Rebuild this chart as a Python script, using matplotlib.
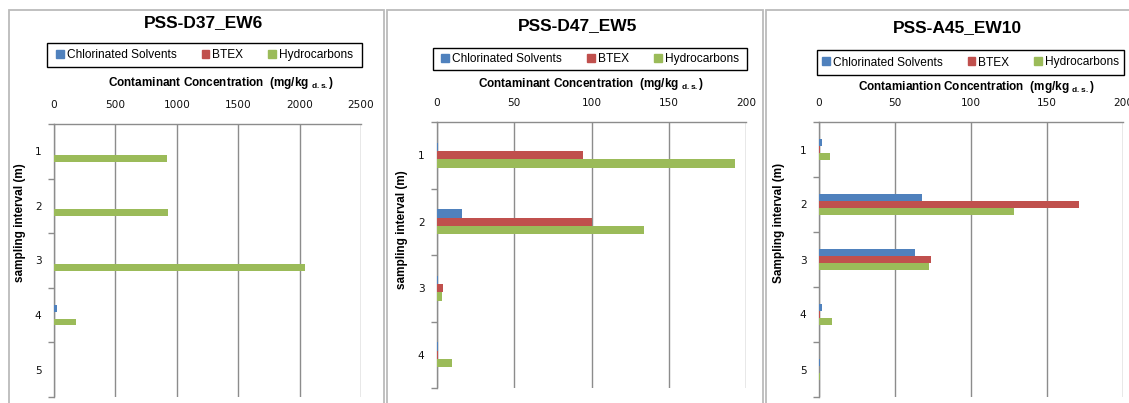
import numpy as np
import matplotlib
matplotlib.use("Agg")
from matplotlib import pyplot as plt
from matplotlib.patches import Rectangle

plt.rcParams['mathtext.fontset'] = 'custom'
plt.rcParams['mathtext.rm'] = 'Liberation Sans'

W, H = 1129, 403

# sample series
series_names = ['Chlorinated Solvents', 'BTEX', 'Hydrocarbons']
series_colors = ['#4F81BD', '#C0504D', '#9BBB59']

d37_intervals = ['1', '2', '3', '4', '5']
d37_chlor = [0, 0, 0, 25, 0]
d37_btex = [0, 0, 0, 0, 0]
d37_hydro = [922, 930, 2040, 180, 0]
d37_ticks = [0, 500, 1000, 1500, 2000, 2500]

d47_intervals = ['1', '2', '3', '4']
d47_chlor = [0.7, 16.4, 0.8, 0.7]
d47_btex = [94.7, 100.5, 4.1, 0.7]
d47_hydro = [193.2, 134.2, 3.5, 9.8]
d47_ticks = [0, 50, 100, 150, 200]

a45_intervals = ['1', '2', '3', '4', '5']
a45_chlor = [2.2, 67.8, 63.2, 2.2, 0.8]
a45_btex = [0.7, 171.3, 73.7, 0.7, 0.3]
a45_hydro = [7.4, 128.2, 72.4, 8.7, 0.8]
a45_ticks = [0, 50, 100, 150, 200]

fig = plt.figure(figsize=(W / 100, H / 100), dpi=100)


def fx(px):
    return px / W


def fy(py):
    return 1 - py / H


def frame(x0, x1):
    # light grey chart-area border, runs off the bottom of the image
    fig.add_artist(Rectangle((fx(x0), fy(420)), fx(x1 - x0), (420 - 10) / H,
                             transform=fig.transFigure, fill=False,
                             edgecolor='#BBBBBB', lw=1.3))


def legend_box(x0, y0, x1, y1):
    fig.add_artist(Rectangle((fx(x0), fy(y1)), fx(x1 - x0), (y1 - y0) / H,
                             transform=fig.transFigure, fill=False,
                             edgecolor='black', lw=1.0))
    handles = [Rectangle((0, 0), 1, 1, color=c) for c in series_colors]
    fig.legend(handles, series_names, loc='center',
               bbox_to_anchor=(fx((x0 + x1) / 2), fy((y0 + y1) / 2)),
               ncol=3, frameon=False, handlelength=0.65, handleheight=0.65,
               handletextpad=0.25, columnspacing=2.1,
               prop={'family': 'Liberation Sans', 'size': 8.6})


def panel(box, title, title_xy, xlabel, xlabel_xy, ylabel, ylabel_xy,
          intervals, chlor, btex, hydro, ticks):
    x0, y0, x1, y1 = box
    ax = fig.add_axes([fx(x0), fy(y1), fx(x1 - x0), (y1 - y0) / H])
    n = len(intervals)
    pos = np.arange(1, n + 1)
    h = 0.125
    ax.barh(pos - h, chlor, height=h, color=series_colors[0], zorder=3)
    ax.barh(pos, btex, height=h, color=series_colors[1], zorder=3)
    ax.barh(pos + h, hydro, height=h, color=series_colors[2], zorder=3)
    ax.set_xlim(ticks[0], ticks[-1])
    ax.set_ylim(n + 0.5, 0.5)

    ax.xaxis.tick_top()
    ax.set_xticks(ticks)
    ax.tick_params(axis='x', length=0, pad=10, labelsize=7.6, labelcolor='#111111')
    ax.grid(axis='x', color='#8C8C8C', lw=1.0, zorder=0)

    ax.set_yticks(pos)
    ax.set_yticklabels(intervals)
    ax.tick_params(axis='y', length=0, pad=9, labelsize=7.6, labelcolor='#111111')
    ax.set_yticks(np.arange(0.5, n + 1), minor=True)
    ax.tick_params(axis='y', which='minor', length=4, color='#8C8C8C', width=1)

    for s in ['right', 'bottom']:
        ax.spines[s].set_visible(False)
    for s in ['left', 'top']:
        ax.spines[s].set_color('#8C8C8C')
        ax.spines[s].set_linewidth(1.0)

    fig.text(fx(title_xy[0]), fy(title_xy[1]), title, ha='center', va='center',
             family='Liberation Sans', fontweight='bold', fontsize=12.5)
    fig.text(fx(xlabel_xy[0]), fy(xlabel_xy[1]), xlabel, ha='center', va='center',
             family='Liberation Sans', fontweight='bold', fontsize=8.5)
    fig.text(fx(ylabel_xy[0]), fy(ylabel_xy[1]), ylabel, ha='center', va='center',
             rotation=90, family='Liberation Sans', fontweight='bold', fontsize=8.5)
    return ax


frame(9, 384)
frame(387, 763)
frame(766, 1140)

panel((54, 124, 361, 397), 'PSS-D37_EW6', (204, 23),
      r'Contaminant Concentration  (mg/kg $_{\mathregular{d.s.}}$)', (221, 83),
      'sampling interval (m)', (20, 223),
      d37_intervals, d37_chlor, d37_btex, d37_hydro, d37_ticks)
legend_box(47, 43, 362, 67)

panel((437, 122, 746, 388), 'PSS-D47_EW5', (578, 26),
      r'Contaminant Concentration  (mg/kg $_{\mathregular{d.s.}}$)', (591, 84),
      'sampling interval (m)', (402, 230),
      d47_intervals, d47_chlor, d47_btex, d47_hydro, d47_ticks)
legend_box(433, 48, 747, 70)

panel((819, 122, 1123, 397), 'PSS-A45_EW10', (957, 28),
      r'Contamiantion Concentration  (mg/kg $_{\mathregular{d.s.}}$)', (976, 87),
      'Sampling interval (m)', (779, 223),
      a45_intervals, a45_chlor, a45_btex, a45_hydro, a45_ticks)
legend_box(817, 50, 1124, 75)

fig.savefig('out.png', dpi=100)
